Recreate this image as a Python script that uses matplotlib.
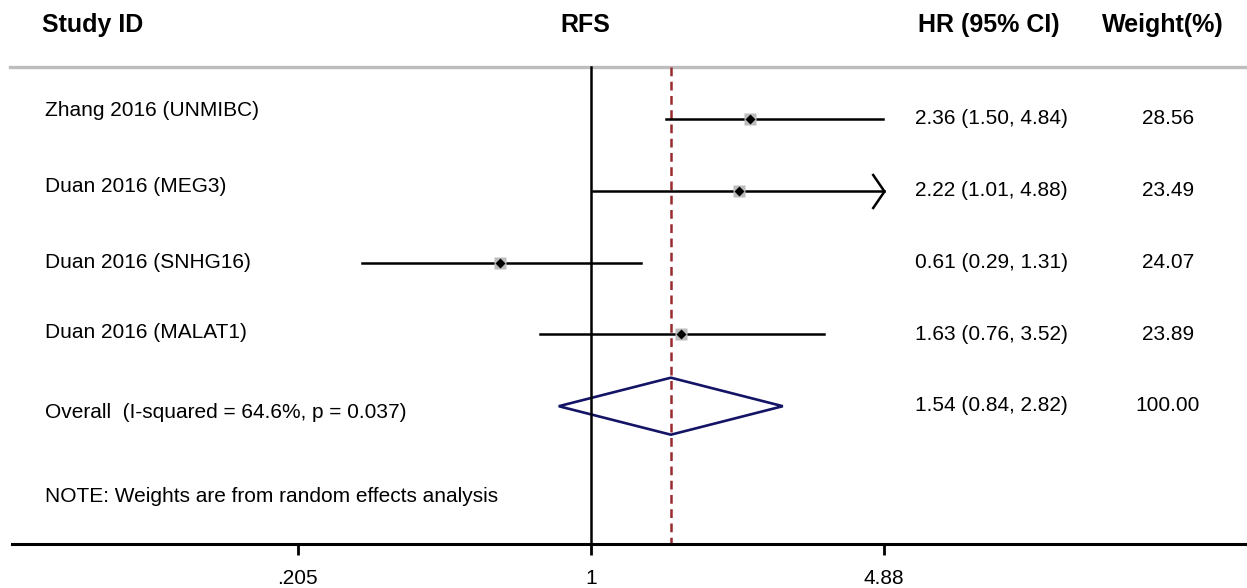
import numpy as np
import matplotlib
matplotlib.use("Agg")
import matplotlib.pyplot as plt
from matplotlib.path import Path

studies = ["Zhang 2016 (UNMIBC)", "Duan 2016 (MEG3)", "Duan 2016 (SNHG16)", "Duan 2016 (MALAT1)"]
hr = [2.36, 2.22, 0.61, 1.63]
lo = [1.50, 1.01, 0.29, 0.76]
hi = [4.84, 4.88, 1.31, 3.52]
weights = ["28.56", "23.49", "24.07", "23.89"]

overall_label = "Overall  (I-squared = 64.6%, p = 0.037)"
overall_hr, overall_lo, overall_hi = 1.54, 0.84, 2.82
overall_weight = "100.00"
note = "NOTE: Weights are from random effects analysis"

xticks = [0.205, 1, 4.88]
xticklabels = [".205", "1", "4.88"]
axis_max = 4.88  # upper display limit, CIs beyond are drawn with an arrow

plt.rcParams['font.family'] = ['Liberation Sans', 'DejaVu Sans']

W, H = 1247, 588
fig = plt.figure(figsize=(W / 100, H / 100), dpi=100)
ax = fig.add_axes([0, 0, 1, 1])

# log scale: 1 at px 591, 185 px per ln unit
px_per_ln = 185.0
x0 = 591
ax.set_xscale('log')
ax.set_xlim(np.exp(-x0 / px_per_ln), np.exp((W - x0) / px_per_ln))
ax.set_ylim(H, 0)

def fx(px):
    return px / W

top, base = 67, 544
row_y = 119 + 71.8 * np.arange(len(studies) + 1)
label_y = [110, 187, 262, 333]   # study names sit a bit off the CI rows
overall_label_y, note_y = 412, 496

# header
hdr = dict(fontsize=18, fontweight='bold', va='center')
tr = ax.get_yaxis_transform()  # x axes fraction, y data
ax.text(fx(42), 25, "Study ID", transform=tr, ha='left', **hdr)
ax.text(fx(585), 25, "RFS", transform=tr, ha='center', **hdr)
ax.text(fx(918), 25, "HR (95% CI)", transform=tr, ha='left', **hdr)
ax.text(fx(1102), 25, "Weight(%)", transform=tr, ha='left', **hdr)
ax.axhline(top, xmin=fx(10), xmax=1, color='#bdbdbd', lw=2.4)

# reference lines
ax.plot([1, 1], [top, base], color='black', lw=1.8)
ax.plot([overall_hr, overall_hr], [top, base], color='#982a30', lw=1.8,
        dashes=(3.5, 2.2))

chevron = Path([(-12, -17.5), (0, 0), (-12, 17.5)],
               [Path.MOVETO, Path.LINETO, Path.LINETO])

for i, name in enumerate(studies):
    y = row_y[i]
    right = min(hi[i], axis_max)
    ax.plot([lo[i], right], [y, y], color='black', lw=1.8)
    if hi[i] >= axis_max:
        ax.plot([right], [y], marker=chevron, ms=25.2, mfc='none',
                mec='black', mew=1.8)
    ax.plot([hr[i]], [y], marker='s', ms=8.5, color='#bcbcbc', mec='none')
    ax.plot([hr[i]], [y], marker='D', ms=5.2, color='black', mec='none')
    ax.text(fx(45), label_y[i], name, transform=tr, fontsize=15,
            va='center', ha='left')
    ax.text(fx(915), y, f"{hr[i]:.2f} ({lo[i]:.2f}, {hi[i]:.2f})", transform=tr,
            fontsize=15, va='center', ha='left')
    ax.text(fx(1168), y, weights[i], transform=tr, fontsize=15,
            va='center', ha='center')

# overall diamond
yo = row_y[-1]
half = 28.5
ax.fill([overall_lo, overall_hr, overall_hi, overall_hr],
        [yo, yo - half, yo, yo + half], facecolor='none',
        edgecolor='#141466', lw=1.9)
ax.text(fx(45), overall_label_y, overall_label, transform=tr, fontsize=15,
        va='center', ha='left')
ax.text(fx(915), yo - 1, f"{overall_hr:.2f} ({overall_lo:.2f}, {overall_hi:.2f})",
        transform=tr, fontsize=15, va='center', ha='left')
ax.text(fx(1168), yo - 1, overall_weight, transform=tr, fontsize=15,
        va='center', ha='center')
ax.text(fx(45), note_y, note, transform=tr, fontsize=15, va='center', ha='left')

# bottom axis
for s in ['top', 'left', 'right']:
    ax.spines[s].set_visible(False)
ax.spines['bottom'].set_position(('data', base))
ax.spines['bottom'].set_linewidth(2.2)
ax.spines['bottom'].set_bounds(np.exp((12 - x0) / px_per_ln), ax.get_xlim()[1])
ax.set_xticks(xticks)
ax.set_xticklabels(xticklabels, fontsize=15)
ax.xaxis.set_minor_locator(matplotlib.ticker.NullLocator())
ax.tick_params(axis='x', direction='out', length=8, width=2, pad=10)
ax.set_yticks([])

fig.savefig("out.png", dpi=100)
